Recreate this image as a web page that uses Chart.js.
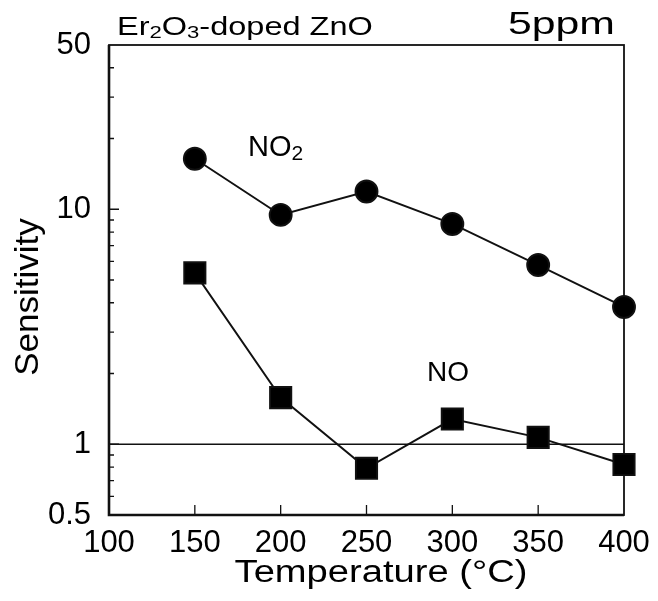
<!DOCTYPE html>
<html>
<head>
<meta charset="utf-8">
<script src="https://cdn.jsdelivr.net/npm/chart.js@4.4.1/dist/chart.umd.min.js"></script>
<style>
  body { margin: 0; background: #fff; }
  #wrap { width: 658px; height: 601px; }
</style>
</head>
<body>
<div id="wrap"><canvas id="myChart" width="658" height="601"></canvas></div>
<script>
// data
const temps = [150, 200, 250, 300, 350, 400];
const no2_sens = [16.4, 9.46, 11.9, 8.66, 5.79, 3.84];
const no_sens = [5.36, 1.58, 0.79, 1.28, 1.07, 0.82];

const xTicks = [100, 150, 200, 250, 300, 350, 400];
const yTicks = [0.5, 0.6, 0.7, 0.8, 0.9, 1, 2, 3, 4, 5, 6, 7, 8, 9, 10, 20, 30, 40, 50];
const yLabels = [0.5, 1, 10, 50];

const FONT = "'Liberation Sans', Arial, Helvetica, sans-serif";

function toPoints(xs, ys) {
  let pts = [];
  for (let i = 0; i < xs.length; i++) {
    pts.push({x: xs[i], y: ys[i]});
  }
  return pts;
}

// draw text made of parts [text, size, dy], stretched horizontally by sx
function stretchText(ctx, parts, x, y, sx, align) {
  ctx.save();
  let w = 0;
  for (const p of parts) {
    ctx.font = p[1] + 'px ' + FONT;
    w += ctx.measureText(p[0]).width;
  }
  ctx.translate(x, y);
  ctx.scale(sx, 1);
  let cx = 0;
  if (align === 'center') cx = -w / 2;
  if (align === 'right') cx = -w;
  ctx.fillStyle = '#000';
  ctx.textBaseline = 'alphabetic';
  ctx.textAlign = 'left';
  for (const p of parts) {
    ctx.font = p[1] + 'px ' + FONT;
    ctx.fillText(p[0], cx, p[2]);
    cx += ctx.measureText(p[0]).width;
  }
  ctx.restore();
}

const framePlugin = {
  id: 'frame',
  beforeDraw(chart) {
    const c = chart.ctx;
    c.save();
    c.fillStyle = '#fff';
    c.fillRect(0, 0, chart.width, chart.height);
    c.restore();
  },
  beforeDatasetsDraw(chart) {
    const c = chart.ctx;
    const a = chart.chartArea;
    const xs = chart.scales.x, ys = chart.scales.y;
    c.save();
    c.strokeStyle = '#111';
    // reference line at 1
    c.lineWidth = 1.6;
    const y1 = ys.getPixelForValue(1);
    c.beginPath();
    c.moveTo(a.left, y1);
    c.lineTo(a.right, y1);
    c.stroke();
    // frame
    c.lineWidth = 1.8;
    c.strokeRect(a.left, a.top, a.right - a.left, a.bottom - a.top);
    c.lineWidth = 2.6;
    c.beginPath();
    c.moveTo(a.left, a.top);
    c.lineTo(a.left, a.bottom);
    c.lineTo(a.right, a.bottom);
    c.stroke();
    // inward ticks
    c.lineWidth = 1.3;
    c.beginPath();
    for (const t of xs.ticks) {
      if (t.value <= xs.min || t.value >= xs.max) continue;
      const px = xs.getPixelForValue(t.value);
      c.moveTo(px, a.bottom);
      c.lineTo(px, a.bottom - 10);
    }
    for (const t of ys.ticks) {
      if (t.value <= ys.min || t.value >= ys.max) continue;
      const py = ys.getPixelForValue(t.value);
      const len = yLabels.includes(t.value) ? 10 : 5;
      c.moveTo(a.left, py);
      c.lineTo(a.left + len, py);
    }
    c.stroke();
    c.restore();
  },
  afterDraw(chart) {
    const c = chart.ctx;
    const a = chart.chartArea;
    const xs = chart.scales.x, ys = chart.scales.y;
    stretchText(c, [['Er', 25, 0], ['2', 17, 3], ['O', 25, 0], ['3', 17, 3], ['-doped ZnO', 25, 0]], a.left + 8, a.top - 10, 1.3, 'left');
    stretchText(c, [['5ppm', 31, 0]], a.right - 9, a.top - 11, 1.38, 'right');
    // series labels
    stretchText(c, [['NO', 29, 0], ['2', 21, 4]], xs.getPixelForValue(181), ys.getPixelForValue(16.9), 1.0, 'left');
    stretchText(c, [['NO', 28, 0]], xs.getPixelForValue(285.3), ys.getPixelForValue(1.86), 1.0, 'left');
    // axis titles
    stretchText(c, [['Temperature (\u00B0C)', 31, 0]], 381, 582, 1.23, 'center');
    c.save();
    c.translate(38, 297);
    c.rotate(-Math.PI / 2);
    stretchText(c, [['Sensitivity', 33, 0]], 0, 0, 1.06, 'center');
    c.restore();
  }
};

const ctx = document.getElementById('myChart');

new Chart(ctx, {
  type: 'scatter',
  data: {
    datasets: [{
      label: 'NO2',
      data: toPoints(temps, no2_sens),
      showLine: true,
      borderColor: '#111',
      backgroundColor: '#000',
      borderWidth: 1.9,
      pointStyle: 'circle',
      pointRadius: 11,
      pointHoverRadius: 11,
      clip: false
    }, {
      label: 'NO',
      data: toPoints(temps, no_sens),
      showLine: true,
      borderColor: '#111',
      backgroundColor: '#000',
      borderWidth: 1.9,
      pointStyle: 'rect',
      pointRadius: 15,
      pointHoverRadius: 15,
      clip: false
    }]
  },
  options: {
    responsive: false,
    animation: false,
    layout: { padding: { left: 0, top: 45, right: 34, bottom: 0 } },
    plugins: {
      legend: { display: false },
      tooltip: { enabled: false }
    },
    scales: {
      x: {
        type: 'linear',
        min: 100,
        max: 400,
        grid: { display: false },
        border: { display: false },
        afterBuildTicks: (scale) => { scale.ticks = xTicks.map(v => ({value: v})); },
        afterFit: (scale) => { scale.height = 86; },
        ticks: {
          autoSkip: false,
          maxRotation: 0,
          padding: 2,
          color: '#000',
          font: { family: FONT, size: 31 }
        }
      },
      y: {
        type: 'logarithmic',
        min: 0.5,
        max: 50,
        grid: { display: false },
        border: { display: false },
        afterBuildTicks: (scale) => { scale.ticks = yTicks.map(v => ({value: v})); },
        afterFit: (scale) => { scale.width = 109; },
        ticks: {
          autoSkip: false,
          padding: 10,
          color: '#000',
          font: { family: FONT, size: 31 },
          callback: (v) => yLabels.includes(v) ? String(v) : ''
        }
      }
    }
  },
  plugins: [framePlugin]
});
</script>
</body>
</html>
